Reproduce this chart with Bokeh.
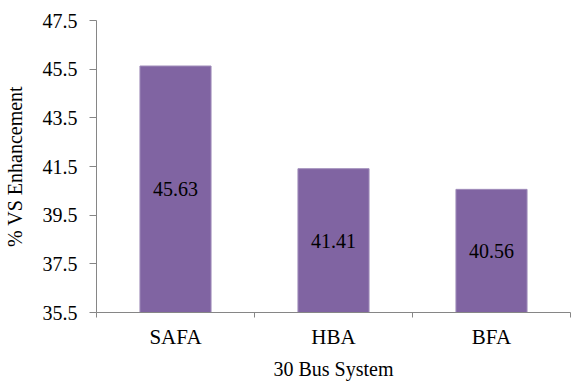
from bokeh.plotting import figure
from bokeh.models import ColumnDataSource, FixedTicker, LabelSet, Range1d
from bokeh.core.properties import value
from bokeh.embed import file_html
from bokeh.resources import INLINE

# Voltage stability enhancement for the 30 bus system
methods = ["SAFA", "HBA", "BFA"]
enhancement = [45.63, 41.41, 40.56]
y_ticks = [35.5, 37.5, 39.5, 41.5, 43.5, 45.5, 47.5]

FONT = "Liberation Serif"
AXIS_GRAY = "#868686"
BASE = y_ticks[0]

pos = [i + 0.5 for i in range(len(methods))]
src = ColumnDataSource(dict(
    x=pos,
    top=enhancement,
    mid=[(BASE + v) / 2 for v in enhancement],
    label=[f"{v:.2f}" for v in enhancement],
))

p = figure(width=571, height=382, output_backend="svg", toolbar_location=None,
           x_range=Range1d(0, len(methods)), y_range=Range1d(y_ticks[0], y_ticks[-1]),
           min_border_left=96, min_border_right=1, min_border_top=20,
           min_border_bottom=69)
p.outline_line_color = None
p.xgrid.visible = False
p.ygrid.visible = False

p.vbar(x="x", top="top", bottom=BASE, width=0.45, source=src,
       fill_color="#8064A2", line_color="#A08DBA", line_width=1)

labels = LabelSet(x="x", y="mid", text="label", source=src,
                  text_align="center", text_baseline="middle",
                  text_font=value(FONT), text_font_size="20px", text_color="#000000")
p.add_layout(labels)

xax = p.xaxis[0]
yax = p.yaxis[0]

for ax in (xax, yax):
    ax.axis_line_color = AXIS_GRAY
    ax.major_label_text_font = FONT
    ax.major_label_text_font_size = "20px"
    ax.major_label_text_color = "#000000"
    ax.axis_label_text_font = FONT
    ax.axis_label_text_font_size = "20px"
    ax.axis_label_text_font_style = "normal"
    ax.axis_label_text_color = "#000000"

# y axis
yax.ticker = FixedTicker(ticks=y_ticks)
yax.major_label_overrides = {t: f"{t:.1f}" for t in y_ticks}
yax.major_tick_line_color = AXIS_GRAY
yax.minor_tick_line_color = None
yax.major_tick_out = 7
yax.major_tick_in = 0
yax.major_label_standoff = 12
yax.axis_label = "% VS Enhancement"
yax.axis_label_standoff = 14

# x axis: category names at bar centres, tick marks between categories
xax.ticker = FixedTicker(ticks=pos, minor_ticks=list(range(len(methods) + 1)))
xax.major_label_overrides = {x: m for x, m in zip(pos, methods)}
xax.major_label_text_font_size = "21px"
xax.major_tick_line_color = None
xax.minor_tick_line_color = AXIS_GRAY
xax.minor_tick_out = 5
xax.minor_tick_in = 0
xax.major_label_standoff = 6
xax.axis_label = "30 Bus System"
xax.axis_label_standoff = 6

open("out.html", "w").write(file_html(p, INLINE))
